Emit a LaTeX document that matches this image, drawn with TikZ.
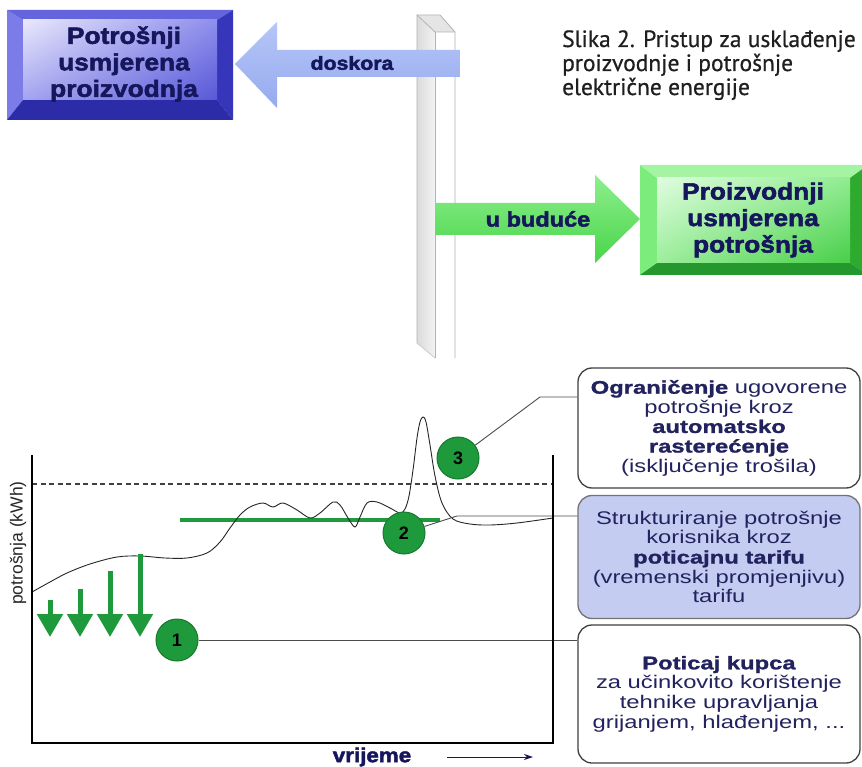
\documentclass[tikz,border=0pt]{standalone}
\usepackage{fontspec}
\usetikzlibrary{arrows.meta,shadings}
\setmainfont{Liberation Sans}
\newfontfamily\capfont{PT Sans}[FakeBold=0.6]
\newfontfamily\heavy{Liberation Sans}[FakeStretch=1.12, BoldFeatures={FakeBold=2.2}]
\newfontfamily\wide{Liberation Sans}[FakeStretch=1.3, BoldFeatures={FakeBold=1.2}]
\definecolor{navy}{HTML}{16165C}
\definecolor{tnavy}{HTML}{22225E}
\definecolor{gr}{HTML}{1E9A3C}
\definecolor{grd}{HTML}{167A2E}
\definecolor{bbL}{HTML}{7C7CE8}
\definecolor{bbT}{HTML}{6464DC}
\definecolor{bbR}{HTML}{3636BA}
\definecolor{bbB}{HTML}{2C2CA8}
\definecolor{bbF1}{HTML}{E8E8FC}
\definecolor{bbF2}{HTML}{5858D8}
\definecolor{bbF3}{HTML}{8E8EEC}
\definecolor{bbF4}{HTML}{A4A4F0}
\definecolor{gbL}{HTML}{7CEC7C}
\definecolor{gbT}{HTML}{A4F4A4}
\definecolor{gbR}{HTML}{2EAA2E}
\definecolor{gbB}{HTML}{24982C}
\definecolor{gbF1}{HTML}{E0FCE0}
\definecolor{gbF2}{HTML}{48CE48}
\definecolor{gbF3}{HTML}{90EC90}
\definecolor{gbF4}{HTML}{9CEE9C}
\definecolor{ba1}{HTML}{B6C6F8}
\definecolor{ba2}{HTML}{96AAEE}
\definecolor{ga1}{HTML}{8EEE8E}
\definecolor{ga2}{HTML}{48D648}
\definecolor{lav}{HTML}{C4CCF2}
\tikzset{
  heavytxt/.style={text=navy, align=center, font=\heavy\bfseries\fontsize{23.5}{26.5}\selectfont},
  arrowtxt/.style={text=navy, font=\heavy\bfseries\fontsize{19}{22}\selectfont},
  captxt/.style={anchor=base west, inner sep=0, text=black!88, font=\capfont\fontsize{23.5}{26}\selectfont},
  infobox/.style={draw=black!75, line width=1.3pt, rounded corners=14pt, minimum width=282pt,
    align=center, text=tnavy, inner sep=2pt, font=\wide\fontsize{18.3}{19.6}\selectfont},
  num/.style={circle, fill=gr, draw=grd, line width=1pt, minimum size=42pt, inner sep=0pt,
    font=\bfseries\fontsize{18}{18}\selectfont, text=black},
  conn/.style={draw=black!70, line width=0.9pt},
  garrow/.style={draw=gr, line width=5pt, -{Triangle[width=25pt,length=23pt]}},
  axisline/.style={draw=black, line width=1.6pt},
}
\begin{document}
\begin{tikzpicture}[x=1pt,y=-1pt]
\useasboundingbox (0,0) rectangle (862,767);
\fill[white] (0,0) rectangle (862,767);

% ---------- pillar ----------
\fill[black!10] (417,15) -- (440,15) -- (455,32) -- (435,32) -- cycle;
\shade[left color=black!14, right color=black!5] (417,15) -- (435,32) -- (435,358) -- (417,343) -- cycle;
\draw[black!30, line width=0.8pt] (417,343) -- (417,15) -- (440,15) -- (455,32) -- (455,358);
\draw[black!30, line width=0.8pt] (417,15) -- (435,32) -- (455,32);
\draw[black!30, line width=0.8pt] (435,32) -- (435,358);
\draw[black!20, line width=0.8pt] (417,343) -- (435,358);

% ---------- blue bevel box ----------
\fill[bbL] (7,10) -- (23,20) -- (23,100) -- (7,120) -- cycle;
\fill[bbT] (7,10) -- (233,10) -- (217,20) -- (23,20) -- cycle;
\fill[bbR] (233,10) -- (233,120) -- (217,100) -- (217,20) -- cycle;
\fill[bbB] (7,120) -- (233,120) -- (217,100) -- (23,100) -- cycle;
\shade[upper left=bbF1, lower right=bbF2, upper right=bbF3, lower left=bbF4] (23,20) rectangle (217,100);
\node[heavytxt] (pb) at (124,64) {Potrošnji\\usmjerena\\proizvodnja};

% ---------- blue arrow ----------
\shade[top color=ba1, bottom color=ba2] (460,50) -- (277,50) -- (277,22) -- (235,64) -- (277,108) -- (277,77) -- (460,77) -- cycle;
\node[arrowtxt] (dk) at (352,63) {doskora};

% ---------- green arrow ----------
\shade[top color=ga1, bottom color=ga2] (435,203) -- (595,203) -- (595,175) -- (640,219) -- (595,263) -- (595,235) -- (435,235) -- cycle;
\node[arrowtxt, font=\heavy\bfseries\fontsize{21}{22}\selectfont] (ub) at (538,219) {u buduće};

% ---------- green bevel box ----------
\fill[gbL] (640,165) -- (657,178) -- (657,263) -- (640,275) -- cycle;
\fill[gbT] (640,165) -- (868,165) -- (850,178) -- (657,178) -- cycle;
\fill[gbR] (868,165) -- (868,275) -- (850,263) -- (850,178) -- cycle;
\fill[gbB] (640,275) -- (868,275) -- (850,263) -- (657,263) -- cycle;
\shade[upper left=gbF1, lower right=gbF2, upper right=gbF3, lower left=gbF4] (657,178) rectangle (850,263);
\node[heavytxt] (pg) at (753,220) {Proizvodnji\\usmjerena\\potrošnja};

% ---------- caption ----------
\node[captxt] (cap1) at (562,47) {Slika 2. Pristup za usklađenje};
\node[captxt] (cap2) at (562,71) {proizvodnje i potrošnje};
\node[captxt] (cap3) at (562,95) {električne energije};

% ---------- chart ----------
\draw[dashed, dash pattern=on 5pt off 3.5pt, black!75, line width=1.2pt] (32,484) -- (553,484);
\draw[gr, line width=4pt] (180,520) -- (440,520);
\draw[black!85, line width=0.9pt] plot[smooth, tension=0.55] coordinates {
 (32,592) (50,582) (67,573) (90,564) (117,557) (140,556) (165,558) (187,558) (207,553)
 (220,542) (230,528) (240,515) (250,507) (263,503) (273,507) (283,503) (297,510) (310,518)
 (320,513) (333,502) (340,505) (348,518) (355,527) (360,517) (367,503) (377,502) (390,508)
 (400,513) (405,509) (409,496) (413,470) (417,438) (420,422) (423,417) (426,422) (430,445)
 (435,476) (442,503) (453,519) (470,524) (490,525) (517,523) (553,518)};
\draw[garrow] (50,600) -- (50,637);
\draw[garrow] (80,589) -- (80,637);
\draw[garrow] (110,571) -- (110,637);
\draw[garrow] (140,554) -- (140,637);

\node[infobox] (b3) at (719,428) [minimum height=120pt] {\textbf{Ograničenje} ugovorene\\potrošnje kroz\\\textbf{automatsko}\\\textbf{rasterećenje}\\(isključenje trošila)};
\node[infobox, fill=lav, draw=black!55] (b2) at (719,557) [minimum height=123pt] {Strukturiranje potrošnje\\korisnika kroz\\\textbf{poticajnu tarifu}\\(vremenski promjenjivu)\\tarifu};
\node[infobox] (b1) at (719,694) [minimum height=138pt] {\textbf{Poticaj kupca}\\za učinkovito korištenje\\tehnike upravljanja\\grijanjem, hlađenjem, ...};

\node[num] (c1) at (177,640) {1};
\node[num] (c2) at (404,533) {2};
\node[num] (c3) at (458,458) {3};

\coordinate (k3) at (540,397);
\coordinate (k2) at (457,516);
\draw[conn] (c3) -- (k3) -- (k3 -| b3.west);
\draw[conn] (c2) -- (k2) -- (k2 -| b2.west);
\draw[conn] (c1) -- (c1 -| b1.west);

\draw[axisline] (32,455) -- (32,743) -- (553,743) -- (553,455);

\node[rotate=90, font=\fontsize{17.5}{17.5}\selectfont, text=black!85] (yl) at (18,543) {potrošnja (kWh)};
\node[arrowtxt, font=\heavy\bfseries\fontsize{20}{20}\selectfont] (vr) at (372,757) {vrijeme};
\coordinate (t0) at (447,757);
\coordinate (t1) at (533,757);
\draw[navy, line width=1pt, -{Stealth[length=9pt,width=6pt]}] (t0) -- (t1);
\end{tikzpicture}
\end{document}
